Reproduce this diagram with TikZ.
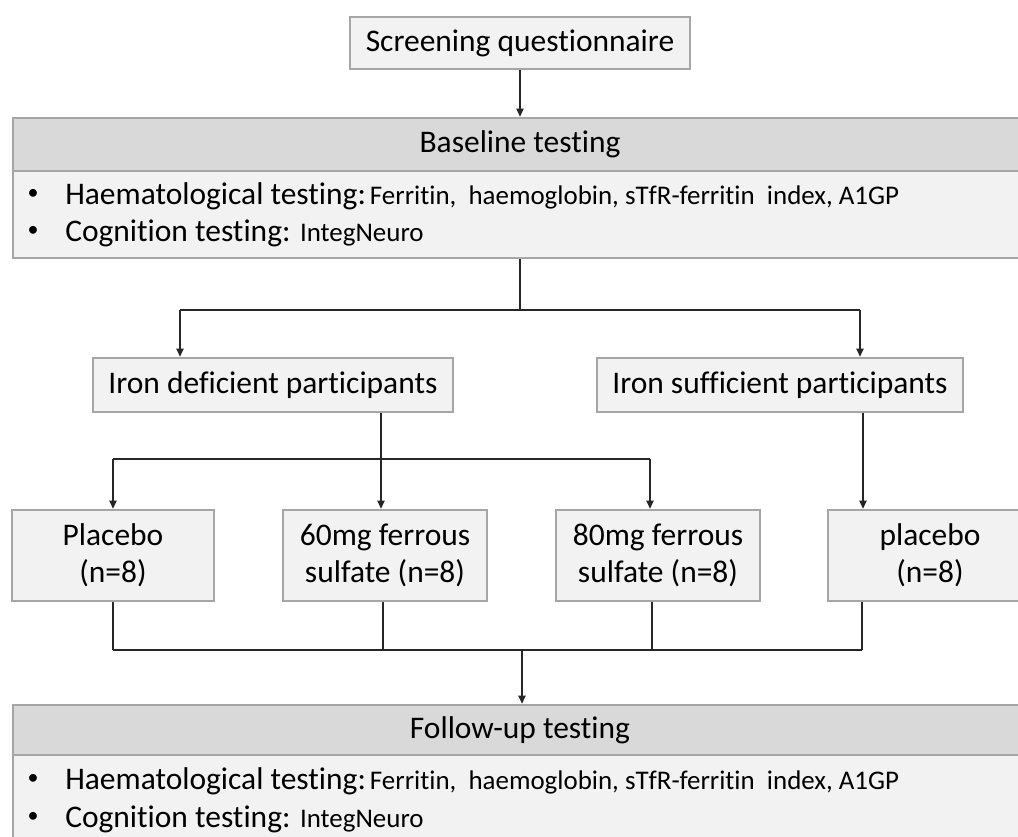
\documentclass[tikz,border=0pt]{standalone}
\usepackage{fontspec}
\setmainfont{Carlito}[Ligatures=NoCommon]
\usetikzlibrary{arrows.meta}
\definecolor{boxline}{RGB}{166,166,166}
\definecolor{headfill}{RGB}{217,217,217}
\definecolor{bodyfill}{RGB}{242,242,242}
\newcommand{\mainsz}{\fontsize{23.6pt}{27.75pt}\selectfont}
\newcommand{\smallsz}{\fontsize{20.2pt}{24pt}\selectfont}
\newcommand{\bulmark}{\makebox[29.25pt][l]{\hspace{1pt}\raisebox{3.3pt}{\fontsize{16.5pt}{16.5pt}\selectfont •}}}
\tikzset{
  box/.style={draw=boxline, line width=2pt, fill=bodyfill, rectangle, inner sep=0pt, font=\mainsz, align=center},
  headbox/.style={box, fill=headfill},
  conn/.style={line width=0.8pt, draw=black!85},
  arr/.style={conn, -{Triangle[length=6pt,width=5.5pt]}},
  txtline/.style={inner sep=0pt, anchor=base west, font=\mainsz},
}
\begin{document}
\begin{tikzpicture}[x=0.75pt,y=-0.75pt]
\useasboundingbox (0,0) rectangle (1018,836);
\clip (0,0) rectangle (1018,836);

% top
\node[box, minimum width=255pt, minimum height=39pt] (screen) at (520,43) {Screening questionnaire};

% baseline testing
\node[box, minimum width=760.5pt, minimum height=65.25pt] (basebody) at (520,214.5) {};
\node[headbox, minimum width=760.5pt, minimum height=39.75pt] (basehead) at (520,144.5) {Baseline testing};
\node[txtline] (bl1) at (26,204) {\bulmark Haematological testing:\hspace{3pt}{\smallsz Ferritin,\ \ haemoglobin, sTfR-ferritin\ \ index, A1GP}};
\node[txtline] (bl2) at (26,241) {\bulmark Cognition testing: {\smallsz IntegNeuro}};

% groups
\node[box, minimum width=270pt, minimum height=40.5pt] (idef) at (273,385) {Iron deficient participants};
\node[box, minimum width=274.5pt, minimum height=40.5pt] (isuf) at (780,385) {Iron sufficient participants};

% treatments
\node[box, minimum width=151.5pt, minimum height=68.25pt] (p1) at (113,555.5) {Placebo\\(n=8)};
\node[box, minimum width=153pt, minimum height=68.25pt] (m60) at (385,555.5) {60mg ferrous\\sulfate (n=8)};
\node[box, minimum width=153pt, minimum height=68.25pt] (m80) at (658,555.5) {80mg ferrous\\sulfate (n=8)};
\node[box, minimum width=153pt, minimum height=68.25pt] (p2) at (930,555.5) {placebo\\(n=8)};

% follow-up
\node[box, minimum width=760.5pt, minimum height=67.5pt] (fubody) at (520,800) {};
\node[headbox, minimum width=760.5pt, minimum height=37.5pt] (fuhead) at (520,730) {Follow-up testing};
\node[txtline] (fl1) at (26,789) {\bulmark Haematological testing:\hspace{3pt}{\smallsz Ferritin,\ \ haemoglobin, sTfR-ferritin\ \ index, A1GP}};
\node[txtline] (fl2) at (26,827) {\bulmark Cognition testing: {\smallsz IntegNeuro}};

% coordinates
\coordinate (split1) at (520,310);
\coordinate (c1) at (180,310);
\coordinate (c2) at (860,310);
\coordinate (d0) at (113,459);
\coordinate (d1) at (381,459);
\coordinate (d2) at (650,459);
\coordinate (s1) at (863,0);
\coordinate (j0) at (113,650);
\coordinate (j1) at (383,650);
\coordinate (j2) at (652,650);
\coordinate (j3) at (862,650);
\coordinate (jm) at (522,650);

% connectors
\draw[arr] (screen.south) -- (basehead.north);
\draw[conn] (basebody.south) -- (split1);
\draw[conn] (c1) -- (c2);
\draw[arr] (c1) -- (c1 |- idef.north);
\draw[arr] (c2) -- (c2 |- isuf.north);

\draw[arr] (idef.south -| d1) -- (d1 |- m60.north);
\draw[conn] (d0) -- (d2);
\draw[arr] (d0) -- (d0 |- p1.north);
\draw[arr] (d2) -- (d2 |- m80.north);
\draw[arr] (isuf.south -| s1) -- (p2.north -| s1);

\draw[conn] (p1.south -| j0) -- (j0);
\draw[conn] (m60.south -| j1) -- (j1);
\draw[conn] (m80.south -| j2) -- (j2);
\draw[conn] (p2.south -| j3) -- (j3);
\draw[conn] (j0) -- (j3);
\draw[arr] (jm) -- (jm |- fuhead.north);
\end{tikzpicture}
\end{document}
